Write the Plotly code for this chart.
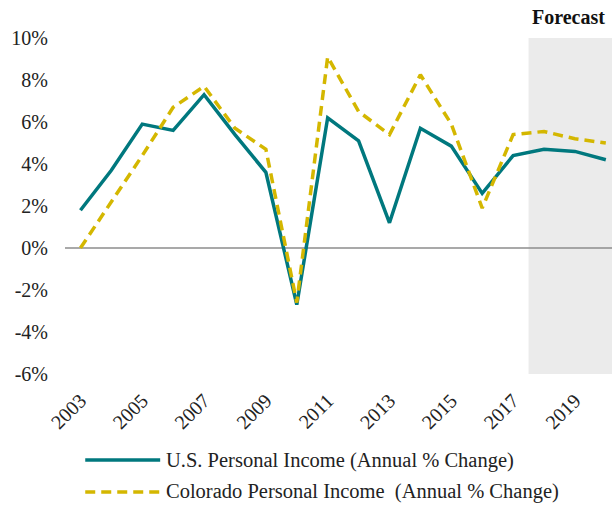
import plotly.graph_objects as go

years = list(range(2003, 2021))
us_income = [1.8, 3.7, 5.9, 5.6, 7.3, 5.4, 3.6, -2.7, 6.2, 5.1, 1.2, 5.7, 4.85, 2.6, 4.4, 4.7, 4.6, 4.2]
co_income = [0.0, 2.2, 4.4, 6.7, 7.7, 5.7, 4.7, -2.6, 9.1, 6.5, 5.4, 8.25, 5.9, 1.9, 5.4, 5.55, 5.2, 5.0]
x_ticks = list(range(2003, 2021, 2))
y_ticks = [-6, -4, -2, 0, 2, 4, 6, 8, 10]
y_labels = [f"{v}%" for v in y_ticks]
forecast_start = 2017.5
series_names = ["U.S. Personal Income (Annual % Change)",
                "Colorado Personal Income  (Annual % Change)"]

TEAL = "#00787E"
GOLD = "#D4B700"
FONT = "Liberation Serif"

fig = go.Figure()
fig.add_trace(go.Scatter(x=years, y=us_income, mode="lines",
                         line=dict(color=TEAL, width=3.5), name=series_names[0]))
fig.add_trace(go.Scatter(x=years, y=co_income, mode="lines",
                         line=dict(color=GOLD, width=3.5, dash="10px,6px"), name=series_names[1]))

# forecast shading
fig.add_shape(type="rect", xref="x", yref="paper", x0=forecast_start, x1=2021,
              y0=0, y1=1, fillcolor="#EBEBEB", line_width=0, layer="below")
# zero line
fig.add_shape(type="line", xref="paper", yref="y", x0=0, x1=1, y0=0, y1=0,
              line=dict(color="#8C8C8C", width=1.3), layer="below")

fig.add_annotation(text="<b>Forecast</b>", xref="paper", yref="paper", x=0.921, y=1.062,
                   xanchor="center", yanchor="middle",
                   showarrow=False, font=dict(family=FONT, size=20, color="#111"))

# manual legend
rows = [(-0.256, TEAL, "solid"), (-0.351, GOLD, "10px,6px")]
for (yy, col, dash), name in zip(rows, series_names):
    fig.add_shape(type="line", xref="paper", yref="paper", x0=0.037, x1=0.174, y0=yy, y1=yy,
                  line=dict(color=col, width=3.5, dash=dash))
    fig.add_annotation(text=name, xref="paper", yref="paper", x=0.181, y=yy, xanchor="left",
                       yanchor="middle", showarrow=False,
                       font=dict(family=FONT, size=20.5, color="#222"))

fig.update_layout(
    width=612, height=506,
    margin=dict(l=65, r=0, t=38, b=132),
    plot_bgcolor="white", paper_bgcolor="white",
    showlegend=False,
    font=dict(family=FONT, size=20, color="#222"),
    xaxis=dict(range=[2002.5, 2020.2], tickvals=x_ticks, ticktext=[str(v) for v in x_ticks],
               tickangle=-45, showgrid=False, zeroline=False, showline=False,
               ticks="outside", ticklen=6, tickcolor="rgba(0,0,0,0)"),
    yaxis=dict(range=[-6, 10], tickvals=y_ticks, ticktext=y_labels, showgrid=False,
               zeroline=False, showline=False, ticks="outside", ticklen=12,
               tickcolor="rgba(0,0,0,0)"),
)

fig.write_html("out.html", config={"displayModeBar": False},
               post_script="document.body.style.margin='0';")
